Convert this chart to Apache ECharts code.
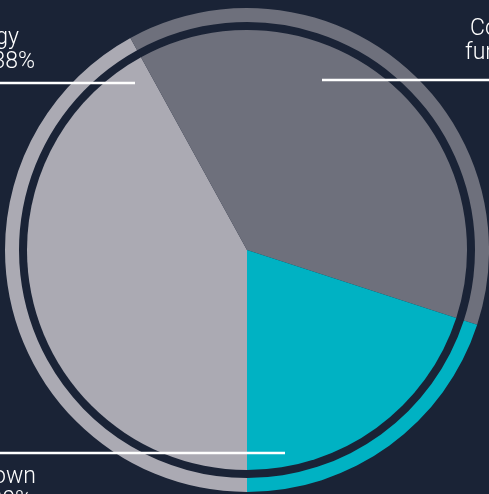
<!DOCTYPE html>
<html>
<head>
<meta charset="utf-8">
<script src="https://cdn.jsdelivr.net/npm/echarts@6/dist/echarts.min.js"></script>
<style>
  html, body { margin: 0; padding: 0; background: #1a2336; }
  #chart { width: 489px; height: 494px; }
</style>
</head>
<body>
<div id="chart"></div>
<script>
// Share of responses by group (percent)
const categories = ['Corporate functions', 'Technology', 'Unknown'];
const labelLines = [['Corporate', 'functions'], ['Technology'], ['Unknown']];
const shares = [42, 38, 20];
const colors = ['#abaab3', '#6e707c', '#00b2c3'];

// Where each callout sits and how its rule runs into the pie
const callouts = [
  { x: 465, y: 17, align: 'left', firstPad: [0, 0, 0, 5], secondPad: [0, 0, 0, 0], rule: [322, 80, 500, 80] },
  { x: 35, y: 26, align: 'right', firstPad: [0, 16, 0, 0], secondPad: [0, 0, 0, 0], rule: [-10, 83, 135, 83] },
  { x: 36, y: 465, align: 'right', firstPad: [0, 0, 0, 0], secondPad: [0, 4, 0, 0], rule: [-10, 453, 285, 453] }
];

const font = { fontFamily: 'Roboto', fontWeight: 300, fontSize: 23, color: '#ffffff', lineHeight: 24 };

const pieData = categories.map((name, i) => ({
  name: name,
  value: shares[i],
  itemStyle: { color: colors[i] }
}));

const labeledData = pieData.map((d, i) => ({
  ...d,
  label: {
    rich: {
      a: { ...font, padding: callouts[i].firstPad },
      b: { ...font, padding: callouts[i].secondPad }
    }
  }
}));

const chart = echarts.init(document.getElementById('chart'), null, { renderer: 'canvas' });

chart.setOption({
  backgroundColor: '#1a2336',
  animation: false,
  graphic: callouts.map(c => ({
    type: 'line',
    z: 100,
    silent: true,
    shape: { x1: c.rule[0], y1: c.rule[1], x2: c.rule[2], y2: c.rule[3] },
    style: { stroke: '#ffffff', lineWidth: 2.5 }
  })),
  series: [
    {
      type: 'pie',
      center: [247, 250],
      radius: [228, 242],
      startAngle: 270,
      clockwise: true,
      silent: true,
      data: pieData,
      label: { show: false },
      labelLine: { show: false }
    },
    {
      type: 'pie',
      center: [247, 250],
      radius: [0, 220],
      startAngle: 270,
      clockwise: true,
      silent: true,
      data: labeledData,
      label: {
        show: true,
        position: 'outside',
        overflow: 'none',
        ...font,
        formatter: function (p) {
          const parts = labelLines[p.dataIndex];
          const pct = p.value + '%';
          if (parts.length > 1) {
            return '{a|' + parts[0] + '}\n{b|' + parts[1] + ' ' + pct + '}';
          }
          return '{a|' + parts[0] + '}\n{b|' + pct + '}';
        }
      },
      labelLine: { show: false },
      labelLayout: function (params) {
        const c = callouts[params.dataIndex];
        return {
          x: c.x,
          y: c.y,
          align: c.align,
          verticalAlign: 'top',
          hideOverlap: false
        };
      }
    }
  ]
});
</script>
</body>
</html>
